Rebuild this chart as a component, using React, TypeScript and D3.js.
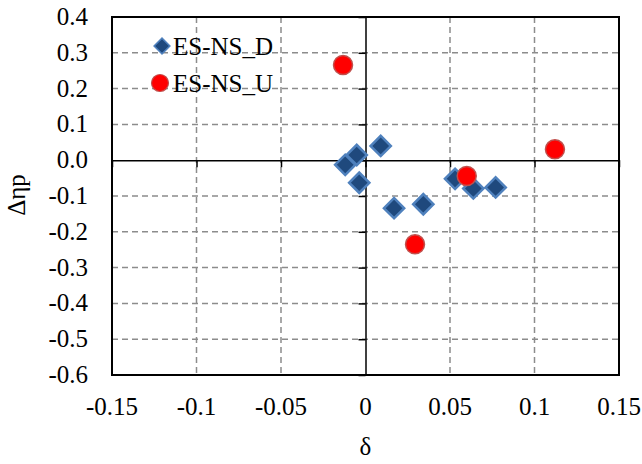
import { useEffect, useRef } from "react";
import * as d3 from "d3";

// ES-NS_D series (diamonds)
const deltaD = [-0.012, -0.0052, 0.009, -0.0037, 0.0169, 0.0342, 0.053, 0.0638, 0.077];
const etaD = [-0.013, 0.0145, 0.04, -0.063, -0.134, -0.123, -0.052, -0.079, -0.076];
// ES-NS_U series (circles)
const deltaU = [-0.0133, 0.0293, 0.0599, 0.1121];
const etaU = [0.266, -0.235, -0.044, 0.0304];

const xTicks = [-0.15, -0.1, -0.05, 0, 0.05, 0.1, 0.15];
const xLabels = ["-0.15", "-0.1", "-0.05", "0", "0.05", "0.1", "0.15"];
const yTicks = [0.4, 0.3, 0.2, 0.1, 0.0, -0.1, -0.2, -0.3, -0.4, -0.5, -0.6];
const yLabels = ["0.4", "0.3", "0.2", "0.1", "0.0", "-0.1", "-0.2", "-0.3", "-0.4", "-0.5", "-0.6"];
const seriesNames = ["ES-NS_D", "ES-NS_U"];

const width = 642;
const height = 464;
const margin = { top: 17, right: 23, bottom: 89, left: 112 };
const font = "Liberation Serif, Times New Roman, serif";
const fontSize = 25;

export default function App() {
  const ref = useRef<SVGSVGElement>(null);

  useEffect(() => {
    const svg = d3.select(ref.current);
    svg.selectAll("*").remove();

    const x = d3.scaleLinear().domain([-0.15, 0.15]).range([margin.left, width - margin.right]);
    const y = d3.scaleLinear().domain([-0.6, 0.4]).range([height - margin.bottom, margin.top]);

    // grid
    const grid = svg.append("g").attr("stroke", "#8c8c8c").attr("stroke-width", 1.5).attr("stroke-dasharray", "6,4");
    grid.selectAll("line.v")
      .data(xTicks.filter((d) => d !== 0 && Math.abs(d) < 0.149))
      .join("line")
      .attr("x1", (d) => x(d)).attr("x2", (d) => x(d))
      .attr("y1", y(0.4)).attr("y2", y(-0.6));
    grid.selectAll("line.h")
      .data(yTicks.filter((d) => d !== 0 && d < 0.39 && d > -0.59))
      .join("line")
      .attr("x1", x(-0.15)).attr("x2", x(0.15))
      .attr("y1", (d) => y(d)).attr("y2", (d) => y(d));

    // plot border
    svg.append("rect")
      .attr("x", x(-0.15)).attr("y", y(0.4))
      .attr("width", x(0.15) - x(-0.15)).attr("height", y(-0.6) - y(0.4))
      .attr("fill", "none").attr("stroke", "#000").attr("stroke-width", 2);

    // axes through zero
    const yAxis = d3.axisLeft(y).tickValues(yTicks).tickSize(7).tickSizeOuter(0).tickFormat(() => "");
    svg.append("g").attr("transform", `translate(${x(0)},0)`).call(yAxis)
      .call((g) => g.selectAll("path,line").attr("stroke", "#000").attr("stroke-width", 1.5));
    const xAxis = d3.axisBottom(x).tickValues(xTicks).tickSize(7).tickSizeOuter(0).tickFormat(() => "");
    svg.append("g").attr("transform", `translate(0,${y(0)})`).call(xAxis)
      .call((g) => g.selectAll("path,line").attr("stroke", "#000").attr("stroke-width", 1.5));

    // tick labels at plot edges
    svg.append("g").selectAll("text")
      .data(yTicks)
      .join("text")
      .attr("x", margin.left - 24)
      .attr("y", (d) => y(d) + 8)
      .attr("text-anchor", "end")
      .attr("font-family", font).attr("font-size", fontSize)
      .text((_, i) => yLabels[i]);
    svg.append("g").selectAll("text")
      .data(xTicks)
      .join("text")
      .attr("x", (d) => x(d))
      .attr("y", y(-0.6) + 40)
      .attr("text-anchor", "middle")
      .attr("font-family", font).attr("font-size", fontSize)
      .text((_, i) => xLabels[i]);

    // axis titles
    svg.append("text")
      .attr("transform", `translate(25,195) rotate(-90)`)
      .attr("text-anchor", "middle")
      .attr("font-family", font).attr("font-size", fontSize)
      .text("Δηp");
    svg.append("text")
      .attr("x", x(0)).attr("y", 455)
      .attr("text-anchor", "middle")
      .attr("font-family", font).attr("font-size", fontSize)
      .text("δ");

    const diamond = d3.symbol().type(d3.symbolSquare).size(205);
    const dataD = deltaD.map((d, i) => [d, etaD[i]]);
    const dataU = deltaU.map((d, i) => [d, etaU[i]]);

    svg.append("g").selectAll("path")
      .data(dataD)
      .join("path")
      .attr("d", diamond)
      .attr("transform", (d) => `translate(${x(d[0])},${y(d[1])}) rotate(45)`)
      .attr("fill", "#1f497d").attr("stroke", "#4f81bd").attr("stroke-width", 2.5);

    svg.append("g").selectAll("circle")
      .data(dataU)
      .join("circle")
      .attr("cx", (d) => x(d[0])).attr("cy", (d) => y(d[1]))
      .attr("r", 9.5)
      .attr("fill", "#ff0000").attr("stroke", "#c0504d").attr("stroke-width", 1.5);

    // legend
    const legend = svg.append("g");
    legend.append("path")
      .attr("d", d3.symbol().type(d3.symbolSquare).size(125))
      .attr("transform", "translate(162,46) rotate(45)")
      .attr("fill", "#1f497d").attr("stroke", "#4f81bd").attr("stroke-width", 1.5);
    legend.append("circle")
      .attr("cx", 160).attr("cy", 83).attr("r", 8.5)
      .attr("fill", "#ff0000").attr("stroke", "#c0504d").attr("stroke-width", 1.2);
    legend.selectAll("text")
      .data(seriesNames)
      .join("text")
      .attr("x", 173)
      .attr("y", (_, i) => 55 + i * 37)
      .attr("font-family", font).attr("font-size", fontSize)
      .text((d) => d);
  }, []);

  return (
    <svg
      ref={ref}
      width={width}
      height={height}
      style={{ position: "absolute", left: 0, top: 0, background: "#fff" }}
    />
  );
}
